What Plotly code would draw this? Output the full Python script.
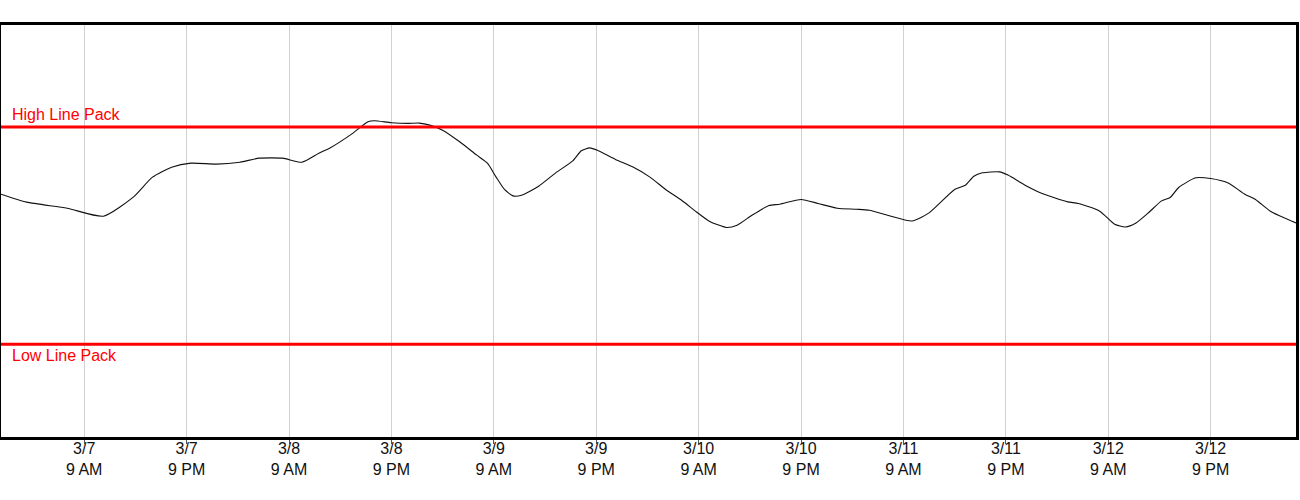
import plotly.graph_objects as go

# Line pack readings (time, value)
times = [
    "2023-03-06 23:15", "2023-03-07 02:15", "2023-03-07 07:00", "2023-03-07 11:15",
    "2023-03-07 14:45", "2023-03-07 17:00", "2023-03-07 19:15", "2023-03-07 21:30",
    "2023-03-08 00:30", "2023-03-08 03:15", "2023-03-08 05:30", "2023-03-08 08:15",
    "2023-03-08 10:30", "2023-03-08 12:30", "2023-03-08 13:45", "2023-03-08 16:30",
    "2023-03-08 18:15", "2023-03-08 19:00", "2023-03-08 21:00", "2023-03-08 23:00",
    "2023-03-09 00:15", "2023-03-09 01:30", "2023-03-09 03:00", "2023-03-09 05:00",
    "2023-03-09 07:00", "2023-03-09 08:15", "2023-03-09 09:15", "2023-03-09 10:15",
    "2023-03-09 11:15", "2023-03-09 12:15", "2023-03-09 14:15", "2023-03-09 16:15",
    "2023-03-09 18:15", "2023-03-09 19:15", "2023-03-09 20:15", "2023-03-09 21:15",
    "2023-03-09 23:15", "2023-03-10 01:15", "2023-03-10 03:15", "2023-03-10 05:15",
    "2023-03-10 07:00", "2023-03-10 08:45", "2023-03-10 10:15", "2023-03-10 12:15",
    "2023-03-10 13:30", "2023-03-10 15:15", "2023-03-10 17:15", "2023-03-10 18:30",
    "2023-03-10 21:00", "2023-03-10 23:00", "2023-03-11 01:15", "2023-03-11 03:30",
    "2023-03-11 05:00", "2023-03-11 07:15", "2023-03-11 10:00", "2023-03-11 12:00",
    "2023-03-11 15:00", "2023-03-11 16:15", "2023-03-11 17:15", "2023-03-11 18:15",
    "2023-03-11 20:15", "2023-03-11 21:15", "2023-03-11 23:15", "2023-03-12 01:15",
    "2023-03-12 04:15", "2023-03-12 05:30", "2023-03-12 08:00", "2023-03-12 09:45",
    "2023-03-12 11:00", "2023-03-12 12:15", "2023-03-12 13:45", "2023-03-12 15:15",
    "2023-03-12 16:15", "2023-03-12 17:15", "2023-03-12 19:15", "2023-03-12 21:00",
    "2023-03-12 23:00", "2023-03-13 01:00", "2023-03-13 02:15", "2023-03-13 04:00",
    "2023-03-13 07:00",
]
line_pack = [
    538.2, 530.9, 525.3, 518.0,
    535.5, 553.9, 563.1, 566.8,
    565.9, 567.7, 571.4, 571.4,
    567.7, 576.0, 580.6, 594.5,
    604.9, 605.8, 604.0, 603.4,
    603.7, 601.8, 597.2, 586.5,
    574.2, 566.8, 554.2, 542.6,
    536.7, 537.3, 545.6, 557.9,
    568.9, 578.2, 580.9, 578.2,
    570.2, 563.4, 554.2, 541.9,
    532.7, 521.9, 513.4, 507.6,
    509.7, 518.9, 527.8, 529.0,
    533.4, 529.7, 525.3, 524.4,
    523.5, 518.6, 513.6, 521.0,
    542.6, 546.5, 554.8, 557.9,
    558.8, 555.8, 546.5, 538.9,
    531.2, 529.7, 522.6, 510.6,
    508.1, 511.8, 521.4, 532.1,
    535.2, 544.4, 553.3, 552.7,
    548.7, 538.2, 533.4, 522.6,
    511.8,
]

HIGH_PACK = 600
LOW_PACK = 400

tick_vals = [
    "2023-03-07 09:00", "2023-03-07 21:00", "2023-03-08 09:00", "2023-03-08 21:00",
    "2023-03-09 09:00", "2023-03-09 21:00", "2023-03-10 09:00", "2023-03-10 21:00",
    "2023-03-11 09:00", "2023-03-11 21:00", "2023-03-12 09:00", "2023-03-12 21:00",
]
tick_text = [
    "3/7<br>9 AM", "3/7<br>9 PM", "3/8<br>9 AM", "3/8<br>9 PM",
    "3/9<br>9 AM", "3/9<br>9 PM", "3/10<br>9 AM", "3/10<br>9 PM",
    "3/11<br>9 AM", "3/11<br>9 PM", "3/12<br>9 AM", "3/12<br>9 PM",
]

RED = "#FF0000"

fig = go.Figure(go.Scatter(
    x=times,
    y=line_pack,
    mode="lines",
    line=dict(color="#111111", width=1.1, shape="spline", smoothing=0.6),
    hovertemplate="%{x}<br>%{y:.1f}<extra></extra>",
))

for level, label, anchor, shift in [
    (HIGH_PACK, "High Line Pack", "bottom", 2),
    (LOW_PACK, "Low Line Pack", "top", -1),
]:
    fig.add_hline(y=level, line=dict(color=RED, width=3))
    fig.add_annotation(
        x=0, xref="paper", y=level, yref="y",
        text=label, showarrow=False,
        xanchor="left", yanchor=anchor, xshift=9, yshift=shift,
        font=dict(color=RED, size=16),
    )

fig.update_layout(
    width=1300,
    height=500,
    plot_bgcolor="white",
    paper_bgcolor="white",
    margin=dict(l=1, r=1, t=25, b=63),
    font=dict(family="Arial, Liberation Sans", size=16, color="#111111"),
    showlegend=False,
)
fig.update_xaxes(
    range=["2023-03-06 23:15", "2023-03-13 07:00"],
    tickvals=tick_vals,
    ticktext=tick_text,
    showgrid=True, gridcolor="#d0d0d0", gridwidth=1,
    showline=True, linecolor="black", linewidth=3, mirror=True,
    ticks="outside", ticklen=4, tickcolor="#555555", tickwidth=1,
    ticklabelstandoff=-9,
    zeroline=False,
)
fig.update_yaxes(
    range=[314.7, 694],
    showticklabels=False,
    showgrid=False, zeroline=False,
    showline=True, linecolor="black", linewidth=3, mirror=True,
)

fig.write_html(
    "out.html",
    config={"displayModeBar": False},
    post_script="document.body.style.margin='0';",
)
